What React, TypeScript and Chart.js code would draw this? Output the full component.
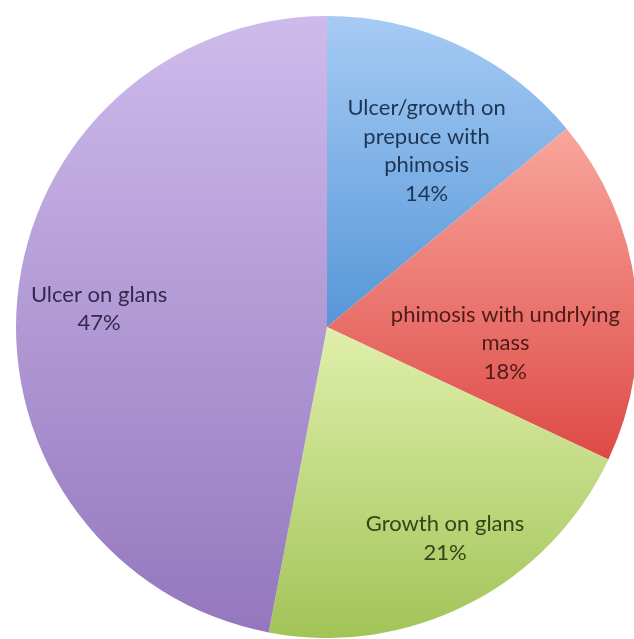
import React, { useEffect, useRef } from "react";
import { Chart, registerables } from "chart.js";

Chart.register(...registerables);

const categories = [
  "Ulcer/growth on prepuce with phimosis",
  "phimosis with undrlying mass",
  "Growth on glans",
  "Ulcer on glans",
];
const labelLines = [
  ["Ulcer/growth on", "prepuce with", "phimosis"],
  ["phimosis with undrlying", "mass"],
  ["Growth on glans"],
  ["Ulcer on glans"],
];
const values = [14, 18, 21, 47];
const topColors = ["#A6CBF4", "#F8A69C", "#E0EFAC", "#CEBBEB"];
const bottomColors = ["#5696D8", "#DE4A46", "#A2C457", "#9477BE"];
const textColors = ["#1E3553", "#4E1A1A", "#34441A", "#33284D"];
// label placement: fraction of radius, and angle offset (degrees) from slice middle
const labelRadius = [0.65, 0.576, 0.778, 0.735];
const labelAngleOffset = [4.3, 12.3, -2.2, -0.9];

function sliceYRange(cx: number, cy: number, r: number, a0: number, a1: number) {
  let minY = cy, maxY = cy;
  const n = 60;
  for (let i = 0; i <= n; i++) {
    const a = a0 + ((a1 - a0) * i) / n;
    const y = cy + r * Math.sin(a);
    if (y < minY) minY = y;
    if (y > maxY) maxY = y;
  }
  return [minY, maxY];
}

const labelPlugin = {
  id: "sliceLabels",
  afterDatasetsDraw(chart: any) {
    const meta = chart.getDatasetMeta(0);
    const ctx = chart.ctx;
    const total = values.reduce((a, b) => a + b, 0);
    ctx.save();
    ctx.font = "22px Lato, 'Open Sans', sans-serif";
    ctx.textAlign = "center";
    ctx.textBaseline = "middle";
    meta.data.forEach((arc: any, i: number) => {
      const { x, y, startAngle, endAngle, outerRadius } = arc.getProps(
        ["x", "y", "startAngle", "endAngle", "outerRadius"],
        true
      );
      const mid = (startAngle + endAngle) / 2 + (labelAngleOffset[i] * Math.PI) / 180;
      const rr = outerRadius * labelRadius[i];
      const lx = x + Math.cos(mid) * rr;
      const ly = y + Math.sin(mid) * rr;
      const lines = [...labelLines[i], Math.round((values[i] / total) * 100) + "%"];
      const lh = 28.5;
      const startY = ly - ((lines.length - 1) * lh) / 2;
      ctx.fillStyle = textColors[i];
      lines.forEach((t, k) => ctx.fillText(t, lx, startY + k * lh));
    });
    ctx.restore();
  },
};

export default function App() {
  const ref = useRef<HTMLCanvasElement | null>(null);
  useEffect(() => {
    document.body.style.margin = "0";
    document.body.style.overflow = "hidden";
    const total = values.reduce((a, b) => a + b, 0);
    const chart = new Chart(ref.current as HTMLCanvasElement, {
      type: "pie",
      data: {
        labels: categories,
        datasets: [
          {
            data: values,
            borderWidth: 0,
            backgroundColor: (c: any) => {
              const chartObj = c.chart;
              const area = chartObj.chartArea;
              if (!area) return topColors[c.dataIndex];
              const cx = (area.left + area.right) / 2;
              const cy = (area.top + area.bottom) / 2;
              const r = Math.min(area.right - area.left, area.bottom - area.top) / 2;
              let cum = 0;
              for (let k = 0; k < c.dataIndex; k++) cum += values[k];
              const a0 = -Math.PI / 2 + (cum / total) * 2 * Math.PI;
              const a1 = a0 + (values[c.dataIndex] / total) * 2 * Math.PI;
              const [y0, y1] = sliceYRange(cx, cy, r, a0, a1);
              const g = chartObj.ctx.createLinearGradient(0, y0, 0, y1);
              g.addColorStop(0, topColors[c.dataIndex]);
              g.addColorStop(1, bottomColors[c.dataIndex]);
              return g;
            },
          },
        ],
      },
      options: {
        responsive: false,
        animation: false,
        layout: { padding: { left: 16, top: 16, right: 0, bottom: 0 } },
        plugins: {
          legend: { display: false },
          tooltip: { enabled: false },
        },
      },
      plugins: [labelPlugin],
    });
    return () => chart.destroy();
  }, []);
  return (
    <div
      style={{
        position: "fixed",
        left: 0,
        top: 0,
        width: 634,
        height: 639,
        overflow: "hidden",
        background: "#ffffff",
      }}
    >
      <canvas ref={ref} width={638} height={638} style={{ width: 638, height: 638 }} />
    </div>
  );
}
